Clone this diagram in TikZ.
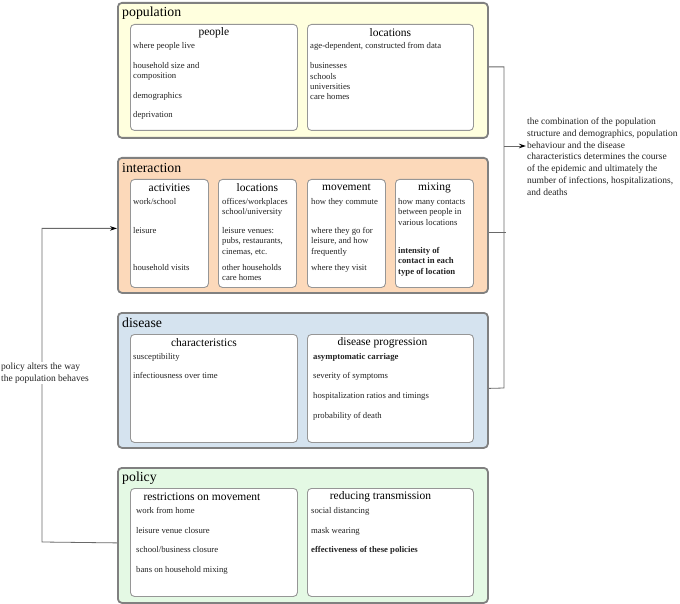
\documentclass[tikz,border=0pt]{standalone}
\usepackage{fontspec}
\setmainfont{Liberation Serif}
\usetikzlibrary{arrows.meta}
\definecolor{populationFill}{RGB}{255,255,222}
\definecolor{interactionFill}{RGB}{252,217,186}
\definecolor{diseaseFill}{RGB}{213,227,239}
\definecolor{policyFill}{RGB}{228,249,228}
\definecolor{groupBorder}{RGB}{128,128,128}
\definecolor{partBorder}{RGB}{150,150,150}
\definecolor{wireGray}{RGB}{105,105,105}
\definecolor{bodyText}{RGB}{35,35,35}
\begin{document}
\begin{tikzpicture}[x=1pt,y=-1pt,>={Stealth[length=7pt,width=4.5pt,black]}]
\tikzstyle{groupBox}=[draw=groupBorder,line width=1.8pt,rounded corners=4pt,anchor=north west,inner sep=0pt,minimum width=370pt,minimum height=135pt]
\tikzstyle{partBox}=[draw=partBorder,line width=0.9pt,fill=white,rounded corners=4pt,anchor=north west,inner sep=0pt];
\tikzstyle{groupTitle}=[anchor=west,inner sep=0pt,font=\fontsize{13.8}{16}\selectfont]
\tikzstyle{partTitle}=[anchor=center,inner sep=0pt,font=\fontsize{11.5}{13}\selectfont]
\tikzstyle{partText}=[anchor=north west,align=left,inner sep=0pt,text=bodyText,font=\fontsize{8.7}{10.4}\selectfont]
\tikzstyle{note}=[align=left,inner sep=1pt,text=bodyText,font=\fontsize{9.5}{11.7}\selectfont]
\tikzstyle{wire}=[draw=wireGray,line width=0.8pt]
\useasboundingbox (0,0) rectangle (680,604);

%Group boxes
\node[groupBox,fill=populationFill]  (population)  at (117,2)   {};
\node[groupBox,fill=interactionFill] (interaction) at (117,157) {};
\node[groupBox,fill=diseaseFill]     (disease)     at (117,312) {};
\node[groupBox,fill=policyFill]      (policy)      at (117,467) {};

\node[groupTitle] (populationTitle)  at (122,13)  {population};
\node[groupTitle] (interactionTitle) at (122,168) {interaction};
\node[groupTitle] (diseaseTitle)     at (122,323) {disease};
\node[groupTitle] (policyTitle)      at (122,478) {policy};

%population parts
\node[partBox,minimum width=167pt,minimum height=106pt] (people)       at (130,24) {};
\node[partBox,minimum width=166pt,minimum height=106pt] (popLocations) at (307,24) {};

\node[partTitle] (peopleTitle)       at ([yshift=-8.5pt]people.north)       {people};
\node[partTitle] (popLocationsTitle) at ([yshift=-8.5pt]popLocations.north) {locations};

\node[partText] (peopleText) at ([xshift=3pt,yshift=-18.5pt]people.north west)
  {where people live\\[9.4pt]household size and\\composition\\[8.8pt]demographics\\[9.4pt]deprivation};
\node[partText] (popLocationsText) at ([xshift=3pt,yshift=-18.5pt]popLocations.north west)
  {age-dependent, constructed from data\\[9.4pt]businesses\\schools\\universities\\care homes};

%interaction parts
\node[partBox,minimum width=78pt,minimum height=108pt] (activities) at (130,179) {};
\node[partBox,minimum width=78pt,minimum height=108pt] (locations)  at (218,179) {};
\node[partBox,minimum width=78pt,minimum height=108pt] (movement)   at (307,179) {};
\node[partBox,minimum width=78pt,minimum height=108pt] (mixing)     at (395,179) {};

\node[partTitle] (activitiesTitle) at ([yshift=-8.5pt]activities.north) {activities};
\node[partTitle] (locationsTitle)  at ([yshift=-8.5pt]locations.north)  {locations};
\node[partTitle] (movementTitle)   at ([yshift=-8.5pt]movement.north)   {movement};
\node[partTitle] (mixingTitle)     at ([yshift=-8.5pt]mixing.north)     {mixing};

\node[partText] (activitiesText) at ([xshift=3pt,yshift=-19pt]activities.north west)
  {work/school\\[18.6pt]leisure\\[26.6pt]household visits};
\node[partText] (locationsText) at ([xshift=4pt,yshift=-19pt]locations.north west)
  {offices/workplaces\\school/university\\[8.2pt]leisure venues:\\pubs, restaurants,\\cinemas, etc.\\[5.8pt]other households\\care homes};
\node[partText] (movementText) at ([xshift=4pt,yshift=-19pt]movement.north west)
  {how they commute\\[18.6pt]where they go for\\leisure, and how\\frequently\\[5.8pt]where they visit};
\node[partText] (mixingText) at ([xshift=3pt,yshift=-19pt]mixing.north west)
  {how many contacts\\between people in\\various locations\\[17.8pt]\textbf{intensity of}\\\textbf{contact in each}\\\textbf{type of location}};

%disease parts
\node[partBox,minimum width=167pt,minimum height=108pt] (characteristics) at (130,334) {};
\node[partBox,minimum width=166pt,minimum height=108pt] (progression)     at (307,334) {};

\node[partTitle] (characteristicsTitle) at ([xshift=-10pt,yshift=-8.5pt]characteristics.north) {characteristics};
\node[partTitle] (progressionTitle)     at ([xshift=-8pt,yshift=-8.5pt]progression.north)      {disease progression};

\node[partText] (characteristicsText) at ([xshift=3pt,yshift=-19pt]characteristics.north west)
  {susceptibility\\[9.3pt]infectiousness over time};
\node[partText] (progressionText) at ([xshift=6pt,yshift=-19pt]progression.north west)
  {\textbf{asymptomatic carriage}\\[9.3pt]severity of symptoms\\[9.3pt]hospitalization ratios and timings\\[9.3pt]probability of death};

%policy parts
\node[partBox,minimum width=167pt,minimum height=108pt] (restrictions) at (130,488) {};
\node[partBox,minimum width=166pt,minimum height=108pt] (reducing)     at (307,488) {};

\node[partTitle] (restrictionsTitle) at ([xshift=-12pt,yshift=-8.5pt]restrictions.north) {restrictions on movement};
\node[partTitle] (reducingTitle)     at ([xshift=-10pt,yshift=-8.5pt]reducing.north)     {reducing transmission};

\node[partText] (restrictionsText) at ([xshift=6pt,yshift=-19pt]restrictions.north west)
  {work from home\\[9.4pt]leisure venue closure\\[9.4pt]school/business closure\\[9.4pt]bans on household mixing};
\node[partText] (reducingText) at ([xshift=4pt,yshift=-19pt]reducing.north west)
  {social distancing\\[9.4pt]mask wearing\\[9.4pt]\textbf{effectiveness of these policies}};

%right bracket
\coordinate (busBottom) at (504,388);
\coordinate (busMid)    at (504,146);
\node[note,anchor=north west] (outcome) at (526,117)
  {the combination of the population\\structure and demographics, population\\behaviour and the disease\\characteristics determines the course\\of the epidemic and ultimately the\\number of infections, hospitalizations,\\and deaths};

\draw[wire] ([yshift=3.5pt]population.east) -| (busBottom) -- ([yshift=-8pt]disease.east);
\draw[wire] ([yshift=-7pt]interaction.east) -- ++(17,0);
\draw[wire,->] (busMid) -- (busMid -| outcome.west);

%left feedback
\coordinate (feedbackCorner) at (42,542);
\draw[wire,->] ([yshift=-7.5pt]policy.west) -- (feedbackCorner) |- ([yshift=-3pt]interaction.west);
\node[note,anchor=west,fill=white] (feedback) at (0,373)
  {policy alters the way\\the population behaves};

\end{tikzpicture}
\end{document}
